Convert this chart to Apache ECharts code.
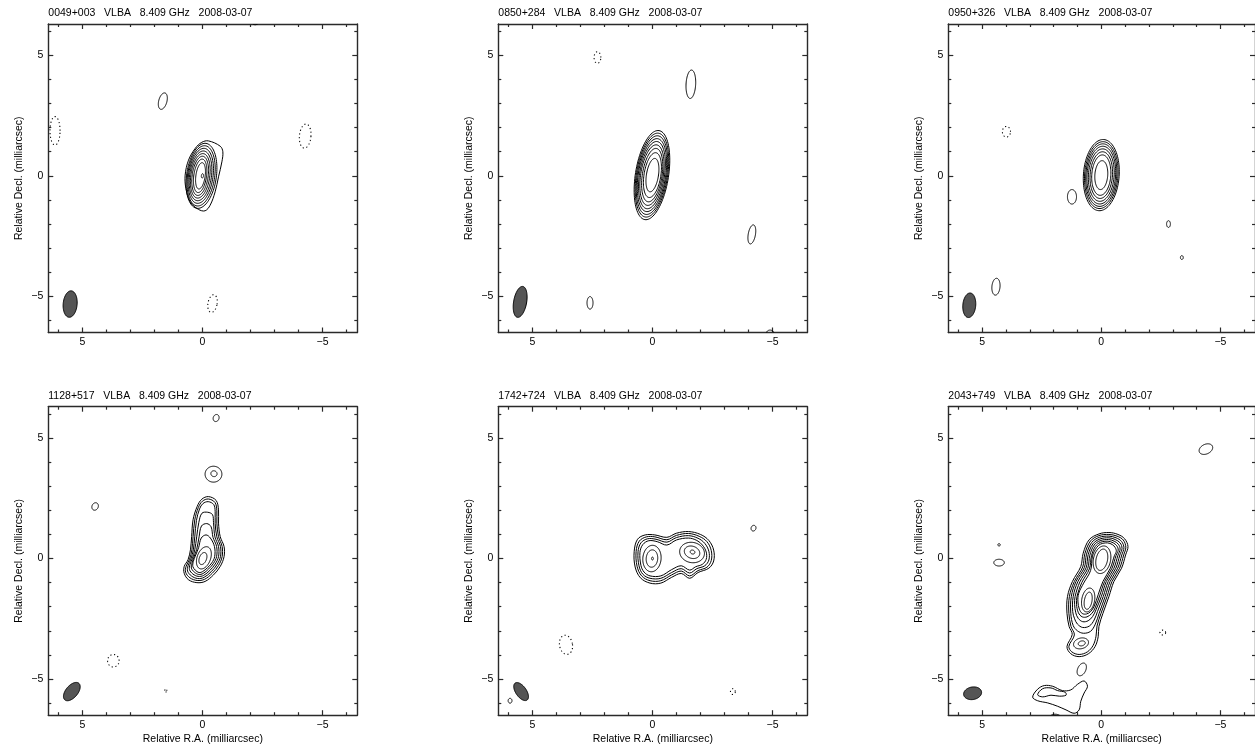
<!DOCTYPE html>
<html>
<head>
<meta charset="utf-8">
<script src="https://cdn.jsdelivr.net/npm/echarts@6/dist/echarts.min.js"></script>
<style>html,body{margin:0;padding:0;background:#fff}#c{width:1255px;height:748px}</style>
</head>
<body>
<div id="c"></div>
<script>
// ---------- axis values ----------
const xRange = [-6.45, 6.42];
const yRange = [-6.5, 6.3];
const majorTicks = [-5, 0, 5];
const minorTicks = [-6, -4, -3, -2, -1, 1, 2, 3, 4, 6];
const xName = 'Relative R.A. (milliarcsec)';
const yName = 'Relative Decl. (milliarcsec)';

// ---------- titles ----------
const titles = [
  '0049+003   VLBA   8.409 GHz   2008-03-07',
  '0850+284   VLBA   8.409 GHz   2008-03-07',
  '0950+326   VLBA   8.409 GHz   2008-03-07',
  '1128+517   VLBA   8.409 GHz   2008-03-07',
  '1742+724   VLBA   8.409 GHz   2008-03-07',
  '2043+749   VLBA   8.409 GHz   2008-03-07'
];

// ellipse contours: [centreRA, centreDec, halfWidth, halfHeight, tiltDeg, dotted(1=negative)]
// polygon contours: lists of [RA, Dec]
// beams: [centreRA, centreDec, halfWidth, halfHeight, tiltDeg]

// ---------- 0049+003 ----------
const p1Ellipses = [
  [0.04, 0, 0.62, 1.36, 8, 0], [0.055, 0, 0.565, 1.26, 8, 0], [0.07, 0, 0.51, 1.15, 8, 0],
  [0.08, 0, 0.455, 1.04, 8, 0], [0.09, 0, 0.395, 0.93, 8, 0], [0.095, 0, 0.333, 0.82, 8, 0],
  [0.095, 0, 0.265, 0.70, 8, 0], [0.08, 0, 0.193, 0.55, 8, 0], [0, 0, 0.045, 0.09, 8, 0],
  [1.65, 3.1, 0.17, 0.35, 15, 0],
  [6.14, 1.87, 0.21, 0.59, 0, 1],
  [-4.28, 1.65, 0.24, 0.5, 5, 1],
  [-0.42, -5.3, 0.19, 0.37, 10, 1],
  [-2.2, 6.4, 0.15, 0.13, 0, 0]
];
const p1Polys = [
  [[-0.25,1.45],[-0.74,1.23],[-0.85,1.0],[-0.81,0.58],[-0.67,-0.04],[-0.53,-0.66],[-0.32,-1.22],[-0.11,-1.45],
   [0.17,-1.39],[0.51,-1.08],[0.69,-0.52],[0.72,0.03],[0.58,0.65],[0.3,1.14],[0.03,1.39]]
];
const p1Beam = [[5.51, -5.32, 0.29, 0.55, 5]];

// ---------- 0850+284 ----------
const p2Ellipses = [
  [0.02, 0.03, 0.69, 1.87, 9, 0], [0.02, 0.03, 0.65, 1.76, 9, 0], [0.02, 0.03, 0.61, 1.65, 9, 0],
  [0.02, 0.03, 0.57, 1.53, 9, 0], [0.02, 0.03, 0.52, 1.41, 9, 0], [0.02, 0.03, 0.47, 1.27, 9, 0],
  [0.01, 0.03, 0.41, 1.12, 9, 0], [0.0, 0.03, 0.35, 0.94, 9, 0], [0.0, 0.03, 0.25, 0.70, 9, 0],
  [2.29, 4.91, 0.14, 0.24, 0, 1],
  [-1.6, 3.8, 0.2, 0.59, 3, 0],
  [-4.14, -2.43, 0.15, 0.4, 10, 0],
  [2.6, -5.27, 0.125, 0.26, 0, 0],
  [-4.9, -6.52, 0.15, 0.12, 0, 0]
];
const p2Polys = [];
const p2Beam = [[5.51, -5.23, 0.27, 0.65, 10]];

// ---------- 0950+326 ----------
const p3Ellipses = [
  [0, 0.03, 0.75, 1.48, 4, 0], [0, 0.03, 0.70, 1.39, 4, 0], [0, 0.03, 0.65, 1.30, 4, 0],
  [0, 0.03, 0.60, 1.20, 4, 0], [0, 0.03, 0.54, 1.09, 4, 0], [0, 0.03, 0.47, 0.97, 4, 0],
  [0, 0.03, 0.40, 0.84, 4, 0], [0, 0.03, 0.27, 0.60, 4, 0],
  [3.98, 1.83, 0.17, 0.22, 0, 1],
  [1.23, -0.87, 0.19, 0.3, 0, 0],
  [-2.82, -2.0, 0.08, 0.14, 0, 0],
  [-3.38, -3.39, 0.06, 0.08, 0, 0],
  [4.42, -4.6, 0.17, 0.35, 5, 0]
];
const p3Polys = [];
const p3Beam = [[5.54, -5.37, 0.27, 0.51, 5]];

// ---------- 1128+517 ----------
const p4Ellipses = [
  [-0.06, 0.03, 0.28, 0.48, 20, 0],
  [-0.02, 0.0, 0.15, 0.26, 20, 0],
  [-0.57, 5.83, 0.12, 0.15, 20, 0],
  [-0.46, 3.5, 0.35, 0.33, 0, 0],
  [-0.48, 3.52, 0.13, 0.12, 20, 0],
  [4.47, 2.16, 0.13, 0.16, 25, 0],
  [3.71, -4.24, 0.24, 0.26, 0, 1],
  [1.53, -5.48, 0.04, 0.08, 20, 1]
];
const p4Polys = [
  [[-0.25,2.57],[-0.57,2.41],[-0.67,2.02],[-0.67,1.47],[-0.74,0.91],[-0.9,0.5],[-0.9,0.08],[-0.74,-0.33],[-0.46,-0.68],
   [-0.11,-0.95],[0.23,-1.0],[0.58,-0.88],[0.76,-0.61],[0.76,-0.33],[0.6,-0.05],[0.5,0.36],[0.45,0.91],[0.39,1.61],[0.22,2.16],[0.03,2.46]],
  [[-0.25,2.47],[-0.52,2.33],[-0.6,2.0],[-0.6,1.47],[-0.67,0.91],[-0.82,0.5],[-0.82,0.08],[-0.67,-0.29],[-0.41,-0.61],
   [-0.09,-0.86],[0.22,-0.91],[0.52,-0.8],[0.7,-0.57],[0.68,-0.32],[0.54,-0.04],[0.44,0.36],[0.39,0.91],[0.32,1.6],[0.17,2.12],[0.0,2.38]],
  [[-0.24,2.36],[-0.47,2.24],[-0.53,1.96],[-0.53,1.46],[-0.6,0.9],[-0.75,0.5],[-0.75,0.08],[-0.6,-0.26],[-0.36,-0.55],
   [-0.07,-0.78],[0.2,-0.83],[0.46,-0.72],[0.62,-0.52],[0.6,-0.3],[0.48,-0.02],[0.38,0.36],[0.32,0.9],[0.25,1.58],[0.12,2.06],[-0.02,2.28]],
  [[-0.22,1.92],[-0.42,1.82],[-0.46,1.5],[-0.52,0.9],[-0.67,0.5],[-0.67,0.08],[-0.53,-0.23],[-0.31,-0.49],[-0.05,-0.7],
   [0.18,-0.74],[0.4,-0.64],[0.54,-0.46],[0.52,-0.25],[0.42,0.0],[0.32,0.36],[0.24,0.9],[0.15,1.5],[0.02,1.88]],
  [[-0.18,1.45],[-0.36,1.32],[-0.44,0.88],[-0.59,0.5],[-0.59,0.08],[-0.46,-0.2],[-0.26,-0.43],[-0.03,-0.62],[0.16,-0.66],
   [0.34,-0.56],[0.46,-0.4],[0.44,-0.2],[0.36,0.05],[0.24,0.38],[0.14,0.9],[0.04,1.35]],
  [[-0.15,0.98],[-0.33,0.85],[-0.5,0.5],[-0.51,0.08],[-0.39,-0.18],[-0.21,-0.38],[-0.01,-0.54],[0.14,-0.58],[0.3,-0.48],
   [0.4,-0.33],[0.38,-0.12],[0.3,0.1],[0.16,0.45],[0.05,0.85]]
];
const p4Beam = [[5.44, -5.52, 0.25, 0.45, 40]];

// ---------- 1742+724 ----------
const p5Ellipses = [
  [0.02, 0, 0.38, 0.55, 5, 0], [0.02, 0, 0.24, 0.36, 5, 0], [0, 0, 0.04, 0.06, 0, 0],
  [-1.65, 0.25, 0.52, 0.42, 12, 0], [-1.65, 0.26, 0.33, 0.25, 20, 0], [-1.67, 0.27, 0.1, 0.08, 20, 0],
  [-4.21, 1.26, 0.1, 0.12, 20, 0],
  [3.6, -3.58, 0.27, 0.4, -10, 1],
  [-3.35, -5.52, 0.1, 0.12, 0, 1],
  [5.93, -5.9, 0.08, 0.1, 0, 0]
];
const p5Polys = [
  [[0.76,0.3],[0.62,0.8],[0.3,0.98],[-0.1,0.98],[-0.6,0.88],[-1.0,1.05],[-1.5,1.12],[-2.0,1.0],[-2.35,0.75],[-2.55,0.35],
   [-2.55,-0.1],[-2.35,-0.4],[-1.9,-0.58],[-1.55,-0.82],[-1.2,-0.62],[-0.8,-0.78],[-0.35,-1.02],[0.1,-1.02],[0.5,-0.8],[0.72,-0.35]],
  [[0.68,0.3],[0.55,0.72],[0.25,0.9],[-0.1,0.9],[-0.6,0.78],[-1.0,0.96],[-1.5,1.04],[-1.95,0.92],[-2.27,0.7],[-2.45,0.33],
   [-2.45,-0.08],[-2.27,-0.36],[-1.9,-0.5],[-1.55,-0.72],[-1.2,-0.52],[-0.8,-0.68],[-0.35,-0.92],[0.1,-0.92],[0.45,-0.72],[0.64,-0.32]],
  [[0.6,0.28],[0.48,0.65],[0.2,0.82],[-0.15,0.8],[-0.6,0.68],[-1.0,0.87],[-1.5,0.95],[-1.9,0.84],[-2.18,0.63],[-2.35,0.3],
   [-2.35,-0.06],[-2.18,-0.3],[-1.85,-0.42],[-1.55,-0.6],[-1.2,-0.42],[-0.8,-0.58],[-0.35,-0.82],[0.1,-0.82],[0.4,-0.65],[0.56,-0.3]],
  [[0.52,0.26],[0.4,0.58],[0.15,0.74],[-0.2,0.7],[-0.6,0.56],[-1.0,0.77],[-1.5,0.85],[-1.85,0.75],[-2.08,0.56],[-2.24,0.27],
   [-2.24,-0.03],[-2.08,-0.24],[-1.8,-0.34],[-1.55,-0.48],[-1.2,-0.3],[-0.8,-0.46],[-0.35,-0.72],[0.1,-0.72],[0.35,-0.56],[0.48,-0.28]]
];
const p5Beam = [[5.47, -5.52, 0.22, 0.43, -35]];

// ---------- 2043+749 ----------
const p6Ellipses = [
  [-0.03, -0.05, 0.36, 0.58, 12, 0], [-0.02, -0.05, 0.24, 0.45, 12, 0],
  [0.55, -1.72, 0.27, 0.5, 10, 0], [0.55, -1.75, 0.16, 0.36, 10, 0],
  [0.85, -3.52, 0.32, 0.22, -15, 0], [0.82, -3.52, 0.15, 0.1, -15, 0],
  [-4.39, 4.54, 0.3, 0.2, -25, 0],
  [4.29, 0.57, 0.05, 0.05, 0, 0],
  [4.29, -0.17, 0.22, 0.14, 0, 0],
  [-2.58, -3.07, 0.12, 0.1, 0, 1],
  [0.82, -4.6, 0.17, 0.28, 25, 0],
  [1.93, -6.62, 0.25, 0.16, 0, 0], [1.93, -6.62, 0.19, 0.11, 0, 0], [1.93, -6.62, 0.13, 0.07, 0, 0]
];
const p6Polys = [
  [[0.1,1.02],[-0.32,1.08],[-0.7,1.0],[-0.98,0.82],[-1.12,0.5],[-1.02,0.15],[-0.85,-0.4],[-0.53,-0.95],[-0.32,-1.58],[-0.07,-2.27],[0.1,-2.82],
   [0.13,-3.24],[0.26,-3.65],[0.54,-3.95],[0.93,-4.07],[1.28,-3.95],[1.44,-3.65],[1.22,-3.15],[1.35,-2.82],[1.44,-2.27],
   [1.42,-1.58],[1.21,-0.95],[0.86,-0.33],[0.76,0.22],[0.51,0.78]],
  [[0.1,0.95],[-0.32,1.0],[-0.66,0.93],[-0.92,0.77],[-1.03,0.47],[-0.94,0.15],[-0.77,-0.4],[-0.45,-0.95],[-0.24,-1.58],[0.01,-2.27],[0.18,-2.8],
   [0.22,-3.22],[0.34,-3.6],[0.58,-3.87],[0.93,-3.98],[1.24,-3.87],[1.36,-3.64],[1.13,-3.17],[1.27,-2.82],[1.36,-2.27],
   [1.34,-1.58],[1.13,-0.95],[0.78,-0.35],[0.69,0.2],[0.45,0.73]],
  [[0.08,0.88],[-0.32,0.93],[-0.62,0.86],[-0.85,0.71],[-0.95,0.45],[-0.86,0.15],[-0.69,-0.4],[-0.37,-0.95],[-0.16,-1.58],[0.09,-2.27],[0.25,-2.72],
   [0.45,-3.02],[0.75,-3.1],[1.0,-3.0],[1.18,-2.78],[1.28,-2.27],[1.26,-1.58],[1.06,-0.95],[0.71,-0.37],[0.62,0.18],[0.4,0.67]],
  [[0.06,0.81],[-0.32,0.86],[-0.58,0.79],[-0.79,0.65],[-0.87,0.42],[-0.78,0.15],[-0.61,-0.4],[-0.29,-0.95],[-0.08,-1.58],[0.16,-2.2],[0.3,-2.55],
   [0.5,-2.8],[0.78,-2.86],[1.0,-2.72],[1.12,-2.5],[1.2,-2.2],[1.18,-1.58],[0.98,-0.95],[0.64,-0.39],[0.55,0.16],[0.35,0.61]],
  [[0.05,0.74],[-0.3,0.79],[-0.54,0.72],[-0.72,0.59],[-0.79,0.39],[-0.7,0.14],[-0.53,-0.4],[-0.21,-0.95],[0.0,-1.58],[0.22,-2.12],[0.36,-2.4],
   [0.55,-2.58],[0.78,-2.62],[0.97,-2.48],[1.07,-2.25],[1.12,-1.9],[1.1,-1.58],[0.9,-0.97],[0.57,-0.41],[0.48,0.14],[0.3,0.56]],
  [[0.04,0.67],[-0.28,0.72],[-0.5,0.65],[-0.65,0.53],[-0.71,0.35],[-0.62,0.13],[-0.45,-0.4],[-0.14,-0.95],[0.07,-1.55],[0.26,-2.05],[0.4,-2.28],
   [0.6,-2.42],[0.8,-2.42],[0.96,-2.25],[1.04,-1.9],[1.02,-1.58],[0.82,-1.0],[0.5,-0.43],[0.41,0.12],[0.25,0.5]],
  [[0.03,0.6],[-0.26,0.65],[-0.46,0.58],[-0.58,0.46],[-0.63,0.3],[-0.55,0.12],[-0.38,-0.4],[-0.07,-0.95],[0.13,-1.5],[0.3,-1.98],[0.45,-2.2],
   [0.62,-2.3],[0.8,-2.28],[0.92,-2.1],[0.98,-1.8],[0.95,-1.45],[0.74,-1.02],[0.45,-0.5],[0.37,0.1],[0.2,0.45]],
  [[2.88,-5.75],[2.67,-5.42],[2.39,-5.27],[2.04,-5.3],[1.63,-5.48],[1.28,-5.45],[1.0,-5.22],[0.72,-5.08],[0.58,-5.3],
   [0.72,-5.58],[0.86,-5.92],[0.93,-6.28],[1.14,-6.42],[1.48,-6.28],[1.83,-6.13],[2.25,-5.99],[2.67,-5.9]],
  [[2.67,-5.65],[2.46,-5.4],[2.11,-5.37],[1.83,-5.48],[1.51,-5.55],[1.48,-5.67],[1.76,-5.71],[2.11,-5.67],[2.46,-5.74]]
];
const p6Beam = [[5.4, -5.59, 0.38, 0.26, -10]];

const panelEllipses = [p1Ellipses, p2Ellipses, p3Ellipses, p4Ellipses, p5Ellipses, p6Ellipses];
const panelPolys = [p1Polys, p2Polys, p3Polys, p4Polys, p5Polys, p6Polys];
const panelBeams = [p1Beam, p2Beam, p3Beam, p4Beam, p5Beam, p6Beam];

// ---------- drawing ----------
const FONT = 'Liberation Sans';
const frameStyle = { color: '#2a2a2a', width: 1.4 };
const tickStyle = { color: '#2a2a2a', width: 1.2 };
const fmt = v => (v < 0 ? '\u2212' + Math.abs(v) : String(v));

function ellipsePoints(api, cx, cy, rx, ry, rotDeg) {
  const c = api.coord([cx, cy]);
  const o = api.coord([0, 0]), u1 = api.coord([1, 1]);
  const sx = Math.abs(u1[0] - o[0]), sy = Math.abs(u1[1] - o[1]);
  const a = rx * sx, b = ry * sy, th = rotDeg * Math.PI / 180;
  const pts = [];
  for (let k = 0; k < 96; k++) {
    const t = k / 96 * 2 * Math.PI;
    const u = a * Math.cos(t), v = -b * Math.sin(t);
    pts.push([c[0] + u * Math.cos(th) - v * Math.sin(th), c[1] + u * Math.sin(th) + v * Math.cos(th)]);
  }
  return pts;
}
function renderEllipse(params, api) {
  const pts = ellipsePoints(api, api.value(0), api.value(1), api.value(2), api.value(3), api.value(4));
  const dotted = api.value(5) === 1;
  return { type: 'polygon', shape: { points: pts },
    style: { fill: 'none', stroke: '#000', lineWidth: dotted ? 1.1 : 1, lineDash: dotted ? [1.2, 2.6] : null } };
}
function renderBeam(params, api) {
  const pts = ellipsePoints(api, api.value(0), api.value(1), api.value(2), api.value(3), api.value(4));
  return { type: 'polygon', shape: { points: pts }, style: { fill: '#555555', stroke: '#000', lineWidth: 1 } };
}
function makePolyRender(polys) {
  return function (params, api) {
    const pts = polys[api.value(2)].map(p => api.coord(p));
    return { type: 'polygon', shape: { points: pts, smooth: 0.35 },
      style: { fill: 'none', stroke: '#000', lineWidth: 1 } };
  };
}

const grids = [], xAxes = [], yAxes = [], series = [], titleOpts = [];
for (let g = 0; g < 6; g++) {
  const col = g % 3, row = Math.floor(g / 3);
  const left = 48.3 + 450 * col, top = row === 0 ? 24 : 406.7;
  grids.push({ left: left, top: top, width: 309, height: 308.5, containLabel: false });
  titleOpts.push({ text: titles[g], left: left, top: row === 0 ? 7.5 : 390.5, padding: 0,
    textStyle: { fontSize: 10.5, fontWeight: 'normal', color: '#000', fontFamily: FONT, lineHeight: 12 } });
  const xb = { gridIndex: g, type: 'value', min: xRange[0], max: xRange[1], inverse: true, splitLine: { show: false } };
  const yb = { gridIndex: g, type: 'value', min: yRange[0], max: yRange[1], splitLine: { show: false } };
  const lbl = { show: true, customValues: majorTicks, formatter: fmt, color: '#000', fontSize: 10.5, fontFamily: FONT };
  const majT = { show: true, inside: true, length: 5, customValues: majorTicks, lineStyle: tickStyle };
  const minT = { show: true, inside: true, length: 3, customValues: minorTicks, lineStyle: tickStyle };
  xAxes.push(Object.assign({}, xb, { position: 'bottom', axisLine: { show: true, onZero: false, lineStyle: frameStyle },
    axisTick: majT, axisLabel: Object.assign({}, lbl, { margin: 4 }),
    name: row === 1 ? xName : '', nameLocation: 'middle', nameGap: 18,
    nameTextStyle: { color: '#000', fontSize: 10.5, fontFamily: FONT } }));
  xAxes.push(Object.assign({}, xb, { position: 'top', axisLine: { show: true, onZero: false, lineStyle: frameStyle },
    axisTick: majT, axisLabel: { show: false } }));
  xAxes.push(Object.assign({}, xb, { position: 'bottom', axisLine: { show: false, onZero: false }, axisTick: minT, axisLabel: { show: false } }));
  xAxes.push(Object.assign({}, xb, { position: 'top', axisLine: { show: false, onZero: false }, axisTick: minT, axisLabel: { show: false } }));
  yAxes.push(Object.assign({}, yb, { position: 'left', axisLine: { show: true, onZero: false, lineStyle: frameStyle },
    axisTick: majT, axisLabel: Object.assign({}, lbl, { margin: 5 }),
    name: yName, nameLocation: 'middle', nameGap: 24,
    nameTextStyle: { color: '#000', fontSize: 10.5, fontFamily: FONT } }));
  yAxes.push(Object.assign({}, yb, { position: 'right', axisLine: { show: true, onZero: false, lineStyle: frameStyle },
    axisTick: majT, axisLabel: { show: false } }));
  yAxes.push(Object.assign({}, yb, { position: 'left', axisLine: { show: false, onZero: false }, axisTick: minT, axisLabel: { show: false } }));
  yAxes.push(Object.assign({}, yb, { position: 'right', axisLine: { show: false, onZero: false }, axisTick: minT, axisLabel: { show: false } }));

  const ax = { xAxisIndex: 4 * g, yAxisIndex: 4 * g, clip: true, silent: true, animation: false };
  series.push(Object.assign({ type: 'custom', renderItem: renderEllipse, data: panelEllipses[g] }, ax));
  const polys = panelPolys[g];
  series.push(Object.assign({ type: 'custom', renderItem: makePolyRender(polys),
    data: polys.map((p, i) => [p[0][0], p[0][1], i]) }, ax));
  series.push(Object.assign({ type: 'custom', renderItem: renderBeam, data: panelBeams[g] }, ax));
}

const chart = echarts.init(document.getElementById('c'), null, { renderer: 'canvas' });
chart.setOption({
  animation: false,
  backgroundColor: '#ffffff',
  title: titleOpts,
  grid: grids,
  xAxis: xAxes,
  yAxis: yAxes,
  series: series
});
</script>
</body>
</html>
